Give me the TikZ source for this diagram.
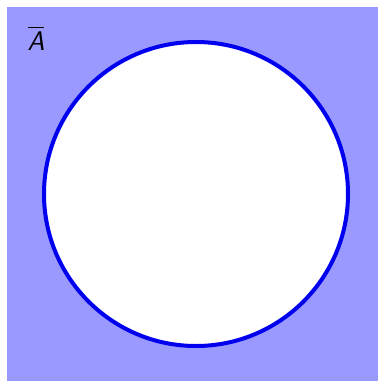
\documentclass[tikz,border=0pt]{standalone}
\usepackage{amsmath,amssymb}
\usepackage{tikz}
\usepackage{xcolor}
\definecolor{setfill}{HTML}{9999FF}
\definecolor{rim}{HTML}{0000EE}

\begin{document}
\begin{tikzpicture}[x=1pt,y=-1pt,every node/.style={font=\fontsize{27}{32}\selectfont}]
    \useasboundingbox (0,0) rectangle (378,381);
    \fill[setfill] (7,7) rectangle (378,381);
    \node[circle,draw=rim,line width=4pt,fill=white,minimum size=304pt,inner sep=0pt] (a) at (196,194) {};
    \node[inner sep=0pt] (lbl) at (36,38) {$\overline{\textsf{\textit{A}}}$};
  \end{tikzpicture}
\end{document}
